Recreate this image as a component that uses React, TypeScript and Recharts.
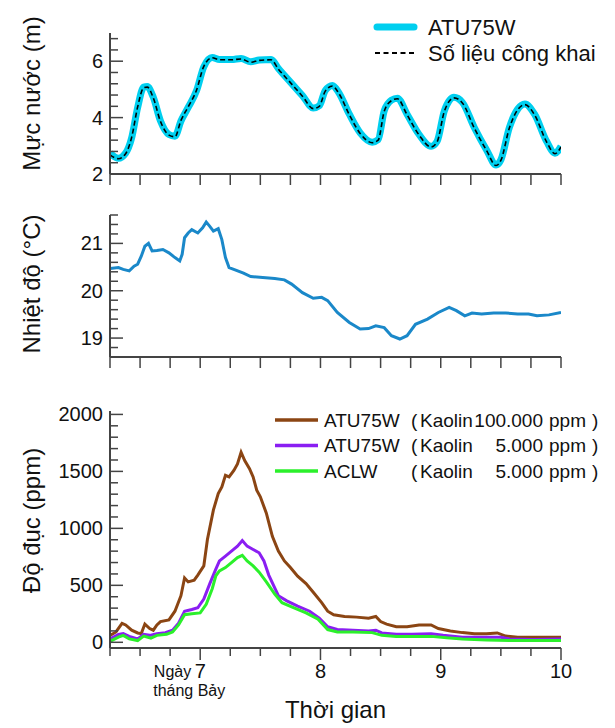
import { LineChart, Line, XAxis, YAxis, Legend } from 'recharts';

const FONT = '"Liberation Sans", Arial, sans-serif';
const AXIS = '#444444';
const TEXT = '#111111';

// shared time axis (days of July)
const dayTicks = [6.25, 6.5, 6.75, 7, 7.25, 7.5, 7.75, 8, 8.25, 8.5, 8.75, 9, 9.25, 9.5, 9.75, 10];
const dayLabels = [7, 8, 9, 10];

// water level (m)
const levelNames = ['ATU75W', 'Số liệu công khai'];
const levelTicks = [2, 2.4, 2.8, 3.2, 3.6, 4, 4.4, 4.8, 5.2, 5.6, 6, 6.4, 6.8];
const levelLabels = [2, 4, 6];
const levelTime = [6.25, 6.32, 6.38, 6.43, 6.48, 6.53, 6.56, 6.61, 6.67, 6.74, 6.79, 6.84, 6.9, 6.97, 7.03, 7.1, 7.16, 7.26, 7.34, 7.42, 7.49, 7.59, 7.65, 7.75, 7.85, 7.94, 7.99, 8.04, 8.1, 8.15, 8.24, 8.33, 8.43, 8.48, 8.53, 8.59, 8.64, 8.72, 8.82, 8.92, 8.97, 9.03, 9.11, 9.18, 9.28, 9.38, 9.46, 9.5, 9.57, 9.64, 9.7, 9.78, 9.88, 9.95, 10];
const levelAtu = [2.74, 2.56, 2.74, 3.28, 4.36, 5.08, 5.1, 4.72, 3.88, 3.4, 3.34, 3.88, 4.36, 4.96, 5.8, 6.13, 6.06, 6.06, 6.1, 5.98, 6.04, 6.06, 5.74, 5.26, 4.78, 4.34, 4.42, 4.96, 5.14, 4.9, 4.12, 3.46, 3.13, 3.22, 4.24, 4.62, 4.69, 4.12, 3.4, 2.98, 3.16, 4.24, 4.72, 4.54, 3.64, 2.86, 2.32, 2.5, 3.64, 4.3, 4.48, 4.12, 3.16, 2.74, 2.98];
const levelPublic = [2.68, 2.54, 2.72, 3.3, 4.38, 5.06, 5.08, 4.7, 3.86, 3.38, 3.32, 3.9, 4.38, 4.98, 5.82, 6.12, 6.05, 6.05, 6.08, 5.96, 6.03, 6.05, 5.72, 5.24, 4.76, 4.32, 4.4, 4.94, 5.12, 4.88, 4.1, 3.44, 3.11, 3.2, 4.22, 4.6, 4.67, 4.1, 3.38, 2.96, 3.14, 4.22, 4.7, 4.52, 3.62, 2.84, 2.3, 2.48, 3.62, 4.28, 4.46, 4.1, 3.14, 2.72, 2.96];

// temperature (°C)
const tempTicks = [18.6, 18.8, 19, 19.2, 19.4, 19.6, 19.8, 20, 20.2, 20.4, 20.6, 20.8, 21, 21.2, 21.4, 21.6];
const tempLabels = [19, 20, 21];
const tempTime = [6.25, 6.32, 6.36, 6.41, 6.45, 6.48, 6.51, 6.54, 6.57, 6.6, 6.64, 6.69, 6.74, 6.79, 6.83, 6.85, 6.87, 6.9, 6.93, 6.98, 7.02, 7.05, 7.08, 7.11, 7.15, 7.18, 7.21, 7.24, 7.29, 7.36, 7.42, 7.52, 7.62, 7.7, 7.76, 7.85, 7.94, 8.01, 8.06, 8.14, 8.24, 8.33, 8.4, 8.46, 8.53, 8.59, 8.66, 8.72, 8.79, 8.89, 8.98, 9.07, 9.13, 9.2, 9.26, 9.34, 9.44, 9.54, 9.64, 9.73, 9.8, 9.9, 10];
const tempValue = [20.47, 20.49, 20.45, 20.42, 20.52, 20.56, 20.73, 20.94, 21.0, 20.84, 20.85, 20.87, 20.8, 20.7, 20.63, 20.77, 21.12, 21.22, 21.29, 21.22, 21.33, 21.45, 21.36, 21.26, 21.31, 21.08, 20.7, 20.49, 20.44, 20.37, 20.3, 20.28, 20.26, 20.23, 20.14, 19.96, 19.84, 19.86, 19.79, 19.54, 19.33, 19.19, 19.2, 19.26, 19.22, 19.05, 18.98, 19.05, 19.29, 19.4, 19.54, 19.65, 19.58, 19.47, 19.53, 19.51, 19.53, 19.53, 19.51, 19.51, 19.47, 19.49, 19.54];

// turbidity (ppm)
const turbTicks = [0, 100, 200, 300, 400, 500, 600, 700, 800, 900, 1000, 1100, 1200, 1300, 1400, 1500, 1600, 1700, 1800, 1900, 2000];
const turbLabels = [0, 500, 1000, 1500, 2000];
const turbNames = ['ATU75W', 'ATU75W', 'ACLW'];
const turbDoses = ['100.000', '5.000', '5.000'];
const turbColors = ['#8B4513', '#8A1EF2', '#2BF02B'];

const brownTime = [6.25, 6.3, 6.35, 6.38, 6.43, 6.48, 6.51, 6.54, 6.58, 6.61, 6.64, 6.67, 6.74, 6.79, 6.84, 6.87, 6.9, 6.95, 6.98, 7.03, 7.06, 7.11, 7.15, 7.18, 7.21, 7.24, 7.28, 7.31, 7.34, 7.37, 7.41, 7.44, 7.47, 7.5, 7.55, 7.6, 7.65, 7.7, 7.75, 7.81, 7.88, 7.94, 8.01, 8.06, 8.11, 8.2, 8.3, 8.4, 8.46, 8.5, 8.55, 8.63, 8.72, 8.82, 8.92, 8.98, 9.08, 9.18, 9.28, 9.38, 9.47, 9.54, 9.64, 9.77, 9.9, 10];
const brownValue = [61, 91, 167, 152, 106, 82, 76, 160, 121, 106, 152, 182, 197, 273, 409, 565, 530, 545, 590, 671, 902, 1162, 1306, 1364, 1465, 1451, 1509, 1566, 1668, 1595, 1523, 1451, 1335, 1277, 1133, 930, 800, 714, 656, 580, 515, 439, 348, 273, 242, 227, 221, 212, 227, 182, 160, 136, 136, 152, 152, 121, 100, 85, 76, 76, 82, 55, 45, 45, 45, 45];

const purpleTime = [6.25, 6.32, 6.36, 6.41, 6.48, 6.53, 6.58, 6.64, 6.71, 6.77, 6.82, 6.87, 6.93, 6.98, 7.03, 7.08, 7.13, 7.16, 7.21, 7.26, 7.31, 7.35, 7.39, 7.44, 7.49, 7.53, 7.57, 7.65, 7.72, 7.81, 7.91, 7.99, 8.06, 8.14, 8.27, 8.4, 8.46, 8.51, 8.63, 8.76, 8.92, 9.02, 9.18, 9.38, 9.5, 9.57, 9.77, 10];
const purpleValue = [30, 70, 76, 52, 30, 70, 61, 76, 85, 106, 167, 273, 288, 303, 379, 515, 642, 714, 757, 800, 844, 893, 844, 815, 786, 714, 590, 409, 364, 318, 273, 212, 136, 112, 106, 100, 106, 82, 70, 70, 76, 61, 45, 45, 45, 30, 24, 30];

const greenTime = [6.25, 6.32, 6.36, 6.41, 6.48, 6.53, 6.59, 6.64, 6.72, 6.77, 6.82, 6.87, 6.93, 7.0, 7.05, 7.1, 7.13, 7.16, 7.21, 7.26, 7.31, 7.35, 7.39, 7.44, 7.49, 7.55, 7.62, 7.68, 7.78, 7.88, 7.98, 8.06, 8.14, 8.27, 8.43, 8.51, 8.63, 8.76, 8.92, 9.05, 9.18, 9.38, 9.57, 9.77, 10];
const greenValue = [9, 45, 61, 30, 15, 55, 36, 61, 70, 91, 152, 242, 251, 258, 333, 470, 584, 627, 656, 700, 743, 763, 714, 671, 615, 530, 424, 348, 303, 258, 203, 112, 91, 91, 85, 61, 52, 52, 52, 39, 30, 21, 15, 15, 15];

const zip = (t: number[], v: number[]) => t.map((x, i) => ({ t: x, v: v[i] }));
const levelData = levelTime.map((t, i) => ({ t, atu: levelAtu[i], pub: levelPublic[i] }));
const tempData = zip(tempTime, tempValue);
const turbData = [zip(brownTime, brownValue), zip(purpleTime, purpleValue), zip(greenTime, greenValue)];

const isIn = (list: number[], v: number) => list.some((l) => Math.abs(l - v) < 1e-6);

function YTick(props: any) {
  const { x, y, payload, labels } = props;
  const major = isIn(labels, payload.value);
  return (
    <g>
      <line x1={x} x2={x + (major ? 13 : 8)} y1={y} y2={y} stroke={AXIS} strokeWidth={1.5} />
      {major && (
        <text x={x - 7} y={y} textAnchor="end" dominantBaseline="central" fontSize={20} fontFamily={FONT} fill={TEXT}>
          {payload.value}
        </text>
      )}
    </g>
  );
}

function XTick(props: any) {
  const { x, y, payload, showLabels } = props;
  const major = isIn(dayLabels, payload.value);
  const len = showLabels ? (major ? 12 : 8) : 11;
  return (
    <g>
      <line x1={x} x2={x} y1={y} y2={y + len} stroke={AXIS} strokeWidth={1.5} />
      {showLabels && major && (
        <text x={x} y={y + 30} textAnchor="middle" fontSize={20} fontFamily={FONT} fill={TEXT}>
          {payload.value}
        </text>
      )}
      {showLabels && payload.value === 7 && (
        <g fontSize={16} fontFamily={FONT} fill={TEXT}>
          <text x={x - 9} y={y + 29} textAnchor="end">Ngày</text>
          <text x={x - 47} y={y + 48}>tháng Bảy</text>
        </g>
      )}
    </g>
  );
}

function YTitle(props: any) {
  const vb = props.viewBox || { x: 0, y: 0, width: 0, height: 0 };
  const cy = vb.y + vb.height / 2 + (props.shift || 0);
  return (
    <text
      x={31}
      y={cy}
      transform={`rotate(-90, 31, ${cy})`}
      textAnchor="middle"
      dominantBaseline="central"
      fontSize={24}
      fontFamily={FONT}
      fill={TEXT}
    >
      {props.text}
    </text>
  );
}

function XTitle(props: any) {
  const vb = props.viewBox || { x: 0, y: 0, width: 0, height: 0 };
  return (
    <text x={vb.x + vb.width / 2} y={vb.y + 70} textAnchor="middle" fontSize={24} fontFamily={FONT} fill={TEXT}>
      Thời gian
    </text>
  );
}

function LevelLegend() {
  return (
    <svg width={615} height={70} style={{ display: 'block' }}>
      <line x1={377} x2={414} y1={27} y2={27} stroke="#00CFEF" strokeWidth={7} strokeLinecap="round" />
      <text x={428} y={27} dominantBaseline="central" fontSize={22} fontFamily={FONT} fill={TEXT}>{levelNames[0]}</text>
      <line x1={375} x2={415} y1={53} y2={53} stroke="#000" strokeWidth={1.8} strokeDasharray="5 3.5" />
      <text x={428} y={53} dominantBaseline="central" fontSize={22} fontFamily={FONT} fill={TEXT}>{levelNames[1]}</text>
    </svg>
  );
}

function TurbLegend() {
  return (
    <svg width={615} height={110} style={{ display: 'block' }}>
      {turbNames.map((name, i) => {
        const y = 40 + i * 25.5;
        return (
          <g key={i} fontSize={19} fontFamily={FONT} fill={TEXT} dominantBaseline="central">
            <line x1={275} x2={318} y1={y} y2={y} stroke={turbColors[i]} strokeWidth={3.5} />
            <text x={324} y={y}>{name}</text>
            <text x={411} y={y}>(</text>
            <text x={420} y={y}>Kaolin</text>
            <text x={543} y={y} textAnchor="end">{turbDoses[i]}</text>
            <text x={549} y={y}>ppm</text>
            <text x={592} y={y}>)</text>
          </g>
        );
      })}
    </svg>
  );
}

const xAxisProps = {
  dataKey: 't',
  type: 'number' as const,
  domain: [6.25, 10],
  ticks: dayTicks,
  interval: 0 as const,
  tickSize: 0,
  tickMargin: 0,
  allowDataOverflow: true,
  axisLine: { stroke: AXIS, strokeWidth: 2 },
};

const yAxisProps = {
  type: 'number' as const,
  width: 110,
  interval: 0 as const,
  tickSize: 0,
  tickMargin: 0,
  allowDataOverflow: true,
  axisLine: { stroke: AXIS, strokeWidth: 2 },
};

export default function App() {
  return (
    <div style={{ position: 'absolute', left: 0, top: 0, width: 615, height: 728, background: '#fff', fontFamily: FONT }}>
      <div style={{ position: 'absolute', left: 0, top: 0 }}>
        <LineChart width={615} height={195} data={levelData} margin={{ top: 33, right: 54, bottom: 0, left: 0 }}>
          <XAxis {...xAxisProps} height={21} tick={<XTick />} />
          <YAxis
            {...yAxisProps}
            domain={[2, 7]}
            ticks={levelTicks}
            tick={<YTick labels={levelLabels} />}
            label={<YTitle text="Mực nước (m)" shift={-10} />}
          />
          <Legend
            layout="horizontal"
            verticalAlign="middle"
            align="center"
            wrapperStyle={{ left: 0, top: 0, width: 615, height: 70 }}
            content={() => <LevelLegend />}
          />
          <Line type="monotone" dataKey="atu" stroke="#00CFEF" strokeWidth={7} dot={false} isAnimationActive={false} />
          <Line type="monotone" dataKey="pub" stroke="#000" strokeWidth={1.6} strokeDasharray="5 3" dot={false} isAnimationActive={false} />
        </LineChart>
      </div>
      <div style={{ position: 'absolute', left: 0, top: 195 }}>
        <LineChart width={615} height={185} data={tempData} margin={{ top: 20, right: 54, bottom: 0, left: 0 }}>
          <XAxis {...xAxisProps} height={23} tick={<XTick />} />
          <YAxis
            {...yAxisProps}
            domain={[18.6, 21.6]}
            ticks={tempTicks}
            tick={<YTick labels={tempLabels} />}
            label={<YTitle text="Nhiệt độ (°C)" shift={-2} />}
          />
          <Line type="linear" dataKey="v" stroke="#1A88C9" strokeWidth={3} dot={false} isAnimationActive={false} />
        </LineChart>
      </div>
      <div style={{ position: 'absolute', left: 0, top: 380 }}>
        <LineChart width={615} height={348} margin={{ top: 31, right: 54, bottom: 0, left: 0 }}>
          <XAxis {...xAxisProps} height={80} tick={<XTick showLabels />} label={<XTitle />} />
          <YAxis
            {...yAxisProps}
            domain={[-50, 2030]}
            ticks={turbTicks}
            tick={<YTick labels={turbLabels} />}
            label={<YTitle text="Độ đục (ppm)" shift={-9} />}
          />
          <Legend
            layout="horizontal"
            verticalAlign="middle"
            align="center"
            wrapperStyle={{ left: 0, top: 0, width: 615, height: 110 }}
            content={() => <TurbLegend />}
          />
          {turbData.map((d, i) => (
            <Line
              key={i}
              data={d}
              type="linear"
              dataKey="v"
              stroke={turbColors[i]}
              strokeWidth={3}
              dot={false}
              isAnimationActive={false}
            />
          ))}
        </LineChart>
      </div>
    </div>
  );
}
